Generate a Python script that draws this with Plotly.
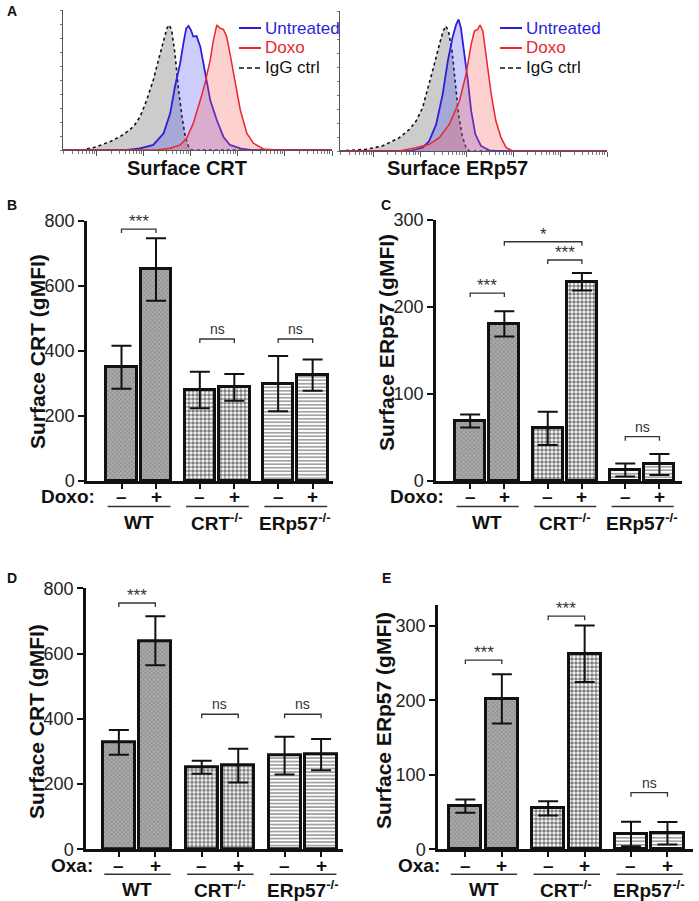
import plotly.graph_objects as go

W, H = 699, 901
FONT = "Liberation Sans, Arial, sans-serif"

# ---------------- Panel A: flow histograms (log10 intensity, % of max) -------------
crt_igg_logx = [-0.72, -0.29, 0.0, 0.28, 0.49, 0.60, 0.78, 0.92, 1.06, 1.20, 1.31, 1.42, 1.49, 1.54, 1.59, 1.66, 1.73, 1.81, 1.88, 1.95, 2.02, 5.0]
crt_igg_pct = [0, 0, 2.4, 6.0, 9.5, 11.9, 16.7, 23.8, 35.7, 50, 64.3, 78.6, 86.9, 89.3, 85.7, 69, 45.2, 23.8, 9.5, 2.4, 0, 0]
crt_unt_logx = [-0.72, 0.64, 0.92, 1.20, 1.42, 1.56, 1.66, 1.77, 1.84, 1.90, 1.95, 2.00, 2.05, 2.12, 2.20, 2.30, 2.41, 2.55, 2.69, 2.83, 3.05, 3.26, 5.0]
crt_unt_pct = [0, 0, 1.2, 3.6, 11.9, 26.2, 45.2, 61.9, 76.2, 86.9, 88.6, 85.7, 81, 81.4, 73.8, 54.8, 35.7, 21.4, 9.5, 3.6, 1.2, 0, 0]
crt_dox_logx = [-0.72, 1.27, 1.56, 1.77, 1.91, 2.05, 2.20, 2.30, 2.41, 2.48, 2.55, 2.62, 2.69, 2.76, 2.83, 2.94, 3.05, 3.19, 3.33, 3.54, 3.83, 5.0]
crt_dox_pct = [0, 0, 1.2, 3.6, 8.3, 19, 35.7, 47.6, 64.3, 78.6, 89.3, 86.9, 86.2, 81, 69, 47.6, 28.6, 11.9, 4.8, 0.7, 0, 0]

erp_igg_logx = [-0.72, -0.16, 0.19, 0.55, 0.77, 0.91, 1.05, 1.19, 1.30, 1.41, 1.49, 1.55, 1.61, 1.68, 1.75, 1.82, 1.89, 1.98, 2.05, 5.0]
erp_igg_pct = [0, 1.2, 3.6, 9.5, 15.5, 21.4, 31, 47.6, 61.9, 76.2, 85.7, 89.3, 84.5, 71.4, 47.6, 26.2, 11.9, 2.4, 0, 0]
erp_unt_logx = [-0.72, 0.77, 1.05, 1.19, 1.34, 1.48, 1.59, 1.69, 1.77, 1.82, 1.87, 1.94, 2.02, 2.09, 2.18, 2.30, 2.48, 2.62, 5.0]
erp_unt_pct = [0, 0, 2.4, 7.1, 19, 40.5, 64.3, 81, 90.5, 94, 88, 71.4, 50, 28.6, 11.9, 3.6, 0.5, 0, 0]
erp_dox_logx = [-0.72, 0.55, 0.91, 1.19, 1.41, 1.62, 1.84, 1.98, 2.09, 2.16, 2.23, 2.28, 2.34, 2.41, 2.52, 2.62, 2.73, 2.84, 2.98, 5.0]
erp_dox_pct = [0, 0, 2.4, 4.8, 9.5, 19, 35.7, 54.8, 76.2, 85.7, 86.9, 90, 85.7, 66.7, 40.5, 21.4, 9.5, 2.4, 0, 0]

legend_labels = ["Untreated", "Doxo", "IgG ctrl"]

# ---------------- Bar panels ----------------
genotypes = ["WT", "CRT<sup>-/-</sup>", "ERp57<sup>-/-</sup>"]
treat_signs = ["–", "+"]

B_mean = [350, 651, 280, 288, 300, 326]
B_err = [66, 96, 56, 41, 85, 48]
C_mean = [69, 180.5, 60.5, 229, 12.6, 19]
C_err = [7.5, 14.5, 19, 10, 7.5, 12]
D_mean = [328, 639, 251.5, 256.5, 287, 290]
D_err = [38, 75, 20, 52, 58, 48]
E_mean = [58, 202, 55, 262.5, 20.6, 21.5]
E_err = [9, 33, 9.5, 38, 16.5, 15]

# significance: (bar_i, bar_j, label, y value)
B_sig = [(0, 1, "***", 775), (2, 3, "ns", 437), (4, 5, "ns", 437)]
C_sig = [(0, 1, "***", 216), (1, 3, "*", 275), (2, 3, "***", 254), (4, 5, "ns", 51)]
D_sig = [(0, 1, "***", 755), (2, 3, "ns", 414), (4, 5, "ns", 414)]
E_sig = [(0, 1, "***", 254), (2, 3, "***", 313), (4, 5, "ns", 76)]

GAP = 2.27
def xpos(i):
    return (i // 2) * GAP + (i % 2)

def px_x(p):
    return p / W

def px_y(p):
    return 1 - p / H

fig = go.Figure()
shapes = []
annos = []

def text(x, y, t, size, color="#111", xanchor="center", yanchor="middle", xref="paper", yref="paper", **kw):
    d = dict(xref=xref, yref=yref, x=x, y=y, text=t, showarrow=False, xanchor=xanchor,
             yanchor=yanchor, font=dict(family=FONT, size=size, color=color))
    d.update(kw)
    annos.append(d)

# ---------- histograms ----------
hist_sets = [
    ("x", "y", crt_igg_logx, crt_igg_pct, crt_unt_logx, crt_unt_pct, crt_dox_logx, crt_dox_pct),
    ("x2", "y2", erp_igg_logx, erp_igg_pct, erp_unt_logx, erp_unt_pct, erp_dox_logx, erp_dox_pct),
]
BLUE = "#2d1fd8"
RED = "#e8282c"
for xa, ya, gx, gy, ux, uy, dx, dy in hist_sets:
    fig.add_trace(go.Scatter(x=[10 ** v for v in gx], y=gy, xaxis=xa, yaxis=ya, mode="lines",
                             line=dict(color="#111", width=1.6, dash="dot"), fill="tozeroy",
                             fillcolor="rgba(120,120,120,0.38)", showlegend=False, hoverinfo="skip"))
    fig.add_trace(go.Scatter(x=[10 ** v for v in ux], y=uy, xaxis=xa, yaxis=ya, mode="lines",
                             line=dict(color=BLUE, width=1.8), fill="tozeroy",
                             fillcolor="rgba(70,70,245,0.27)", showlegend=False, hoverinfo="skip"))
    fig.add_trace(go.Scatter(x=[10 ** v for v in dx], y=dy, xaxis=xa, yaxis=ya, mode="lines",
                             line=dict(color=RED, width=1.5), fill="tozeroy",
                             fillcolor="rgba(250,90,90,0.28)", showlegend=False, hoverinfo="skip"))

# legends for histograms
leg_colors = [BLUE, RED, "#111"]
for x0 in (239, 500):
    for k, lab in enumerate(legend_labels):
        yy = 28 + 20 * k
        shapes.append(dict(type="line", xref="paper", yref="paper", x0=px_x(x0), x1=px_x(x0 + 22),
                           y0=px_y(yy), y1=px_y(yy),
                           line=dict(color=leg_colors[k], width=2 if k < 2 else 1.6,
                                     dash="solid" if k < 2 else "5px,3px")))
        text(px_x(x0 + 24), px_y(yy), lab, 17, leg_colors[k], xanchor="left")

text(px_x(187), px_y(168), "<b>Surface CRT</b>", 20)
text(px_x(457), px_y(168), "<b>Surface ERp57</b>", 20)

hist_x = dict(type="log", range=[-0.72, 5.0], showline=True, linecolor="#555", linewidth=1,
              ticks="outside", ticklen=5, tickcolor="#555", dtick=1, showticklabels=False,
              showgrid=False, zeroline=False,
              minor=dict(ticks="outside", ticklen=2.5, tickcolor="#777", dtick="D1", showgrid=False))
hist_y = dict(range=[0, 100], showline=True, linecolor="#555", linewidth=1, ticks="outside",
              ticklen=2, tickcolor="#777", dtick=10, showticklabels=False, showgrid=False,
              zeroline=False)

layout_axes = {}
layout_axes["xaxis"] = dict(hist_x, domain=[px_x(63), px_x(332)], anchor="y")
layout_axes["yaxis"] = dict(hist_y, domain=[px_y(150), px_y(10)], anchor="x")
layout_axes["xaxis2"] = dict(hist_x, domain=[px_x(340), px_x(607)], anchor="y2")
layout_axes["yaxis2"] = dict(hist_y, domain=[px_y(151), px_y(11)], anchor="x2")

# ---------- bar panels ----------
PATTERNS = [
    dict(color="#ababab", pattern=dict(shape="x", fgcolor="#555", size=3, solidity=0.35)),
    dict(color="white", pattern=dict(shape=".", fgcolor="#000", size=4, solidity=0.62)),
    dict(color="white", pattern=dict(shape="-", fgcolor="#333", size=3.5, solidity=0.45)),
]

panels = [
    ("3", B_mean, B_err, B_sig, [0, 800], 200, (221, 481), (87, 333), [-1.0, 6.13], "Doxo:",
     "Surface CRT (gMFI)", (37, 352), 97, (496, 506.5, 522)),
    ("4", C_mean, C_err, C_sig, [0, 300], 100, (220, 481), (436, 682), [-1.0, 6.2], "Doxo:",
     "Surface ERp57 (gMFI)", (387, 343), 446, (496, 506.5, 522)),
    ("5", D_mean, D_err, D_sig, [0, 800], 200, (588.3, 849.3), (86, 343), [-0.9, 6.14], "Oxa:",
     "Surface CRT (gMFI)", (36, 722), 95, (865, 874.3, 889)),
    ("6", E_mean, E_err, E_sig, [0, 328], 100, (605, 849.3), (438, 693), [-0.75, 6.24], "Oxa:",
     "Surface ERp57 (gMFI)", (383, 721), 442, (865, 874.3, 889)),
]

for (suf, means, errs, sig, yr, dt, ydom, xdom, xr, tlab, ytitle, tpos, tlx, rows) in panels:
    xa, ya = "x" + suf, "y" + suf
    for g in range(3):
        idx = [2 * g, 2 * g + 1]
        fig.add_trace(go.Bar(
            x=[xpos(i) for i in idx], y=[means[i] for i in idx], xaxis=xa, yaxis=ya,
            width=0.88, marker=dict(color=PATTERNS[g]["color"], pattern=PATTERNS[g]["pattern"],
                                    line=dict(color="#111", width=3)),
            error_y=dict(type="data", array=[errs[i] for i in idx], color="#111", thickness=2,
                         width=10),
            showlegend=False, hoverinfo="skip"))
    tickv = [xpos(i) for i in range(6)]
    layout_axes["xaxis" + suf] = dict(domain=[px_x(xdom[0]), px_x(xdom[1])], range=xr, anchor=ya,
                                      showline=True, linecolor="#111", linewidth=2.5,
                                      ticks="outside", ticklen=5, tickwidth=2, tickcolor="#111",
                                      tickvals=tickv, showticklabels=False,
                                      showgrid=False, zeroline=False)
    layout_axes["yaxis" + suf] = dict(domain=[px_y(ydom[1]), px_y(ydom[0])], range=yr, anchor=xa,
                                      showline=True, linecolor="#111", linewidth=2.5,
                                      ticks="outside", ticklen=6, tickwidth=2, tickcolor="#111",
                                      dtick=dt, tick0=0,
                                      tickfont=dict(family=FONT, size=18, color="#222"),
                                      showgrid=False, zeroline=False)
    # y title
    text(px_x(tpos[0]), px_y(tpos[1]), "<b>%s</b>" % ytitle, 21, textangle=-90)
    # treatment label
    text(px_x(tlx), px_y(rows[0]), "<b>%s</b>" % tlab, 19, xanchor="right")
    for i in range(6):
        text(xpos(i), px_y(rows[0]), "<b>%s</b>" % treat_signs[i % 2], 19, xref=xa)
    for g in range(3):
        s = g * GAP
        shapes.append(dict(type="line", xref=xa, yref="paper", x0=s - 0.4, x1=s + 1.42,
                           y0=px_y(rows[1]), y1=px_y(rows[1]), line=dict(color="#333", width=1.5)))
        text(s + 0.5, px_y(rows[2]), "<b>%s</b>" % genotypes[g], 19, xref=xa)
    # significance brackets
    hpx = ydom[1] - ydom[0]
    drop = 4 * (yr[1] - yr[0]) / hpx
    for (i, j, lab, yv) in sig:
        x1, x2 = xpos(i), xpos(j)
        shapes.append(dict(type="path", xref=xa, yref=ya,
                           path="M %f,%f L %f,%f L %f,%f L %f,%f" % (x1, yv - drop, x1, yv, x2, yv, x2, yv - drop),
                           line=dict(color="#333", width=1.3)))
        if lab == "ns":
            text((x1 + x2) / 2, yv, lab, 14, "#333", yanchor="bottom", xref=xa, yref=ya)
        else:
            text((x1 + x2) / 2, yv, lab, 17, "#333", yanchor="bottom", xref=xa, yref=ya, yshift=-4)

# panel letters
for lab, (x, y) in {"A": (12, 11), "B": (12, 205), "C": (386, 205), "D": (12, 578), "E": (386, 578)}.items():
    text(px_x(x), px_y(y), "<b>%s</b>" % lab, 14)

fig.update_layout(width=W, height=H,
                  margin=dict(l=0, r=0, t=0, b=0, pad=0, autoexpand=False),
                  paper_bgcolor="white", hovermode=False,
                  plot_bgcolor="rgba(0,0,0,0)", shapes=shapes, annotations=annos, bargap=0,
                  font=dict(family=FONT), **layout_axes)

fig.write_html("out.html", config={"displayModeBar": False},
               post_script="document.body.style.margin='0';document.body.style.overflow='hidden';")
